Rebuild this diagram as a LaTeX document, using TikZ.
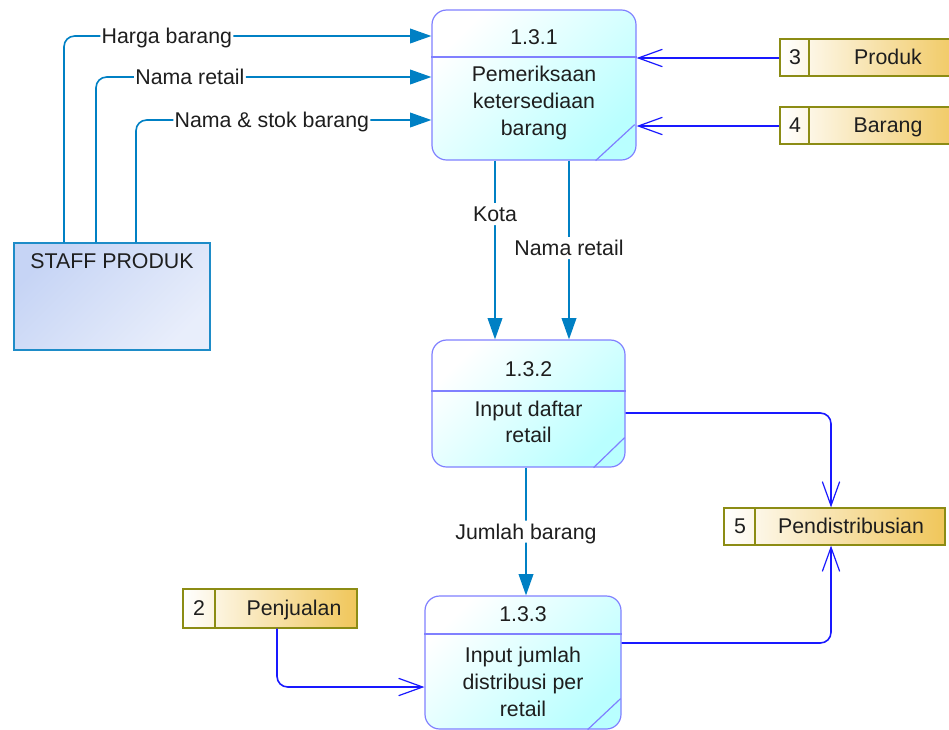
\documentclass[tikz,border=0pt]{standalone}
\usepackage{fontspec}
\setmainfont{Liberation Sans}
\usetikzlibrary{arrows.meta}
\definecolor{flowsteel}{RGB}{0,128,196}
\definecolor{flowblue}{RGB}{25,25,255}
\definecolor{procedge}{RGB}{128,128,255}
\definecolor{procfill}{RGB}{185,255,255}
\definecolor{storeedge}{RGB}{140,140,20}
\definecolor{storefill}{RGB}{240,198,90}
\definecolor{staffedge}{RGB}{30,140,200}
\definecolor{stafffill}{RGB}{198,212,245}
\definecolor{textgray}{RGB}{30,30,30}

\begin{document}
\begin{tikzpicture}[x=0.75pt, y=-0.75pt,
  font=\fontsize{16}{20}\selectfont, text=textgray,
  proc/.style={draw=procedge, line width=0.9pt, rounded corners=11pt,
    top color=white, bottom color=procfill, shading angle=45, inner sep=0pt},
  procline/.style={draw=procedge, line width=0.9pt},
  store/.style={draw=storeedge, line width=0.9pt, left color=white,
    right color=storefill, inner sep=0pt},
  staff/.style={draw=staffedge, line width=0.9pt, top color=stafffill,
    bottom color=white!60!stafffill, shading angle=45, inner sep=0pt},
  txt/.style={text height=13pt, text depth=1.5pt, inner sep=1pt},
  lbl/.style={txt, fill=white},
  dflow/.style={draw=flowsteel, line width=1.2pt, rounded corners=8pt,
    -{Triangle[length=16pt,width=11pt]}},
  sflow/.style={draw=flowblue, line width=1.2pt, rounded corners=8pt,
    -{Straight Barb[length=18pt,width=13pt,line width=0.9pt]}}]

\clip (0,0) rectangle (949,729);

% external entity
\node[staff, minimum width=147pt, minimum height=80.25pt] (staff) at (112,296.5) {};
\node[txt] (stafft) at (112,261) {STAFF PRODUK};

% processes
\node[proc, minimum width=153pt, minimum height=112.5pt] (p131) at (534,85) {};
\draw[procline] (p131.west |- 0,57) -- (p131.east |- 0,57);
\draw[procline] (p131.south east) ++(-41,0) -- ++(39,-36);
\node[txt] (p131t) at (534,37) {1.3.1};
\node[align=center] (p131b) at (534,103) {Pemeriksaan\\ketersediaan\\barang};

\node[proc, minimum width=144.75pt, minimum height=95.25pt] (p132) at (528.5,403.5) {};
\draw[procline] (p132.west |- 0,391) -- (p132.east |- 0,391);
\draw[procline] (p132.south east) ++(-32,0) -- ++(31,-30);
\node[txt] (p132t) at (528.5,369) {1.3.2};
\node[align=center] (p132b) at (528.5,422) {Input daftar\\retail};

\node[proc, minimum width=147pt, minimum height=99.75pt] (p133) at (523,662.5) {};
\draw[procline] (p133.west |- 0,634) -- (p133.east |- 0,634);
\draw[procline] (p133.south east) ++(-34,0) -- ++(33,-31);
\node[txt] (p133t) at (523,614) {1.3.3};
\node[align=center] (p133b) at (523,682) {Input jumlah\\distribusi per\\retail};

% data stores
\node[store, minimum width=140.25pt, minimum height=27.75pt] (s3) at (873.5,57.5) {};
\draw[procline, draw=storeedge] (s3.north -| 809,0) -- (s3.south -| 809,0);
\node[txt] (s3n) at (795,57) {3};
\node[txt] (s3t) at (888,57) {Produk};

\node[store, minimum width=140.25pt, minimum height=27.75pt] (s4) at (873.5,125.5) {};
\draw[procline, draw=storeedge] (s4.north -| 809,0) -- (s4.south -| 809,0);
\node[txt] (s4n) at (795,125) {4};
\node[txt] (s4t) at (888,125) {Barang};

\node[store, minimum width=165.75pt, minimum height=27.75pt] (s5) at (834.5,526.5) {};
\draw[procline, draw=storeedge] (s5.north -| 755,0) -- (s5.south -| 755,0);
\node[txt] (s5n) at (740,526) {5};
\node[txt] (s5t) at (851,526) {Pendistribusian};

\node[store, minimum width=130.5pt, minimum height=29.25pt] (s2) at (270,608.5) {};
\draw[procline, draw=storeedge] (s2.north -| 215,0) -- (s2.south -| 215,0);
\node[txt] (s2n) at (199,608) {2};
\node[txt] (s2t) at (294,608) {Penjualan};

% data flows
\draw[dflow] (staff.north -| 64,0) |- node[lbl,pos=0.64] {Harga barang} (p131.west |- 0,36);
\draw[dflow] (staff.north -| 96,0) |- node[lbl,pos=0.64] {Nama retail} (p131.west |- 0,77);
\draw[dflow] (staff.north -| 136,0) |- node[lbl,pos=0.73] {Nama \& stok barang} (p131.west |- 0,120);

\draw[dflow] (p131.south -| 495,0) -- node[lbl,pos=0.3] {Kota} (p132.north -| 495,0);
\draw[dflow] (p131.south -| 569,0) -- node[lbl,pos=0.49] {Nama retail} (p132.north -| 569,0);
\draw[dflow] (p132.south -| 526,0) -- node[lbl,pos=0.5] {Jumlah barang} (p133.north -| 526,0);

\draw[sflow] (s3.west |- 0,58) -- (p131.east |- 0,58);
\draw[sflow] (s4.west |- 0,126) -- (p131.east |- 0,126);
\draw[sflow] (p132.east |- 0,413) -| (s5.north -| 831,0);
\draw[sflow] (p133.east |- 0,643) -| (s5.south -| 831,0);
\draw[sflow] (s2.south -| 277,0) |- (p133.west |- 0,687);

\end{tikzpicture}
\end{document}
